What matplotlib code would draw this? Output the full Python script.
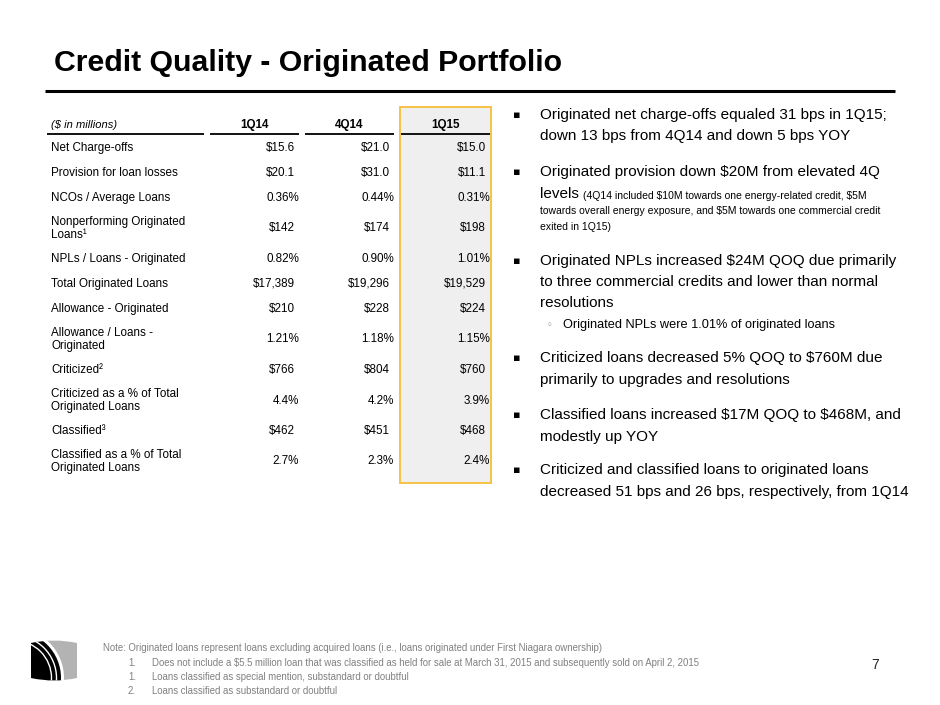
import matplotlib
matplotlib.use("Agg")
import matplotlib.pyplot as plt
from matplotlib.patches import Rectangle, Circle, PathPatch
from matplotlib.path import Path
import numpy as np

plt.rcParams['font.family'] = ['Liberation Sans Narrow', 'Liberation Sans', 'DejaVu Sans']

# ---- data ----
title = "Credit Quality - Originated Portfolio"
unit_label = "($ in millions)"
quarters = ["1Q14", "4Q14", "1Q15"]
row_labels = [
    "Net Charge-offs",
    "Provision for loan losses",
    "NCOs / Average Loans",
    "Nonperforming Originated\nLoans\u00b9",
    "NPLs / Loans - Originated",
    "Total Originated Loans",
    "Allowance - Originated",
    "Allowance / Loans -\nOriginated",
    "Criticized\u00b2",
    "Criticized as a % of Total\nOriginated Loans",
    "Classified\u00b3",
    "Classified as a % of Total\nOriginated Loans",
]
vals_1q14 = ["$15.6", "$20.1", "0.36%", "$142", "0.82%", "$17,389",
             "$210", "1.21%", "$766", "4.4%", "$462", "2.7%"]
vals_4q14 = ["$21.0", "$31.0", "0.44%", "$174", "0.90%", "$19,296",
             "$228", "1.18%", "$804", "4.2%", "$451", "2.3%"]
vals_1q15 = ["$15.0", "$11.1", "0.31%", "$198", "1.01%", "$19,529",
             "$224", "1.15%", "$760", "3.9%", "$468", "2.4%"]

bullets = [
    ["Originated net charge-offs equaled 31 bps in 1Q15;",
     "down 13 bps from 4Q14 and down 5 bps YOY"],
    ["Originated provision down $20M from elevated 4Q",
     "levels"],
    ["Originated NPLs increased $24M QOQ due primarily",
     "to three commercial credits and lower than normal",
     "resolutions"],
    ["Criticized loans decreased 5% QOQ to $760M due",
     "primarily to upgrades and resolutions"],
    ["Classified loans increased $17M QOQ to $468M, and",
     "modestly up YOY"],
    ["Criticized and classified loans to originated loans",
     "decreased 51 bps and 26 bps, respectively, from 1Q14"],
]
provision_note = ["(4Q14 included $10M towards one energy-related credit, $5M",
                  "towards overall energy exposure, and $5M towards one commercial credit",
                  "exited in 1Q15)"]
sub_bullet = "Originated NPLs were 1.01% of originated loans"

note_text = ("Note: Originated loans represent loans excluding acquired loans "
             "(i.e., loans originated under First Niagara ownership)")
footnote_nums = ["1.", "1.", "2."]
footnote_texts = [
    "Does not include a $5.5 million loan that was classified as held for sale "
    "at March 31, 2015 and subsequently sold on April 2, 2015",
    "Loans classified as special mention, substandard or doubtful",
    "Loans classified as substandard or doubtful",
]
page_number = "7"

# ---- canvas ----
fig = plt.figure(figsize=(9.4, 7.05), dpi=100)
ax = fig.add_axes([0, 0, 1, 1])
ax.set_xlim(0, 940)
ax.set_ylim(705, 0)
ax.axis('off')


def put(x, y, s, **kw):
    kw.setdefault('va', 'center')
    kw.setdefault('ha', 'left')
    return ax.text(x, y, s, parse_math=False, **kw)


# title
put(54, 71, title, fontsize=21.8, fontweight='bold', va='baseline')
ax.plot([45, 895], [91, 91], color='black', lw=2.2, solid_capstyle='butt')

# ---- table ----
seg = [(47, 204), (210, 299), (305, 394), (401, 490)]
col_right = [299, 394, 490]
TFS = 8.4
row_h = [36 if '\n' in lab else 25 for lab in row_labels]
tops = 135.5 + np.concatenate([[0], np.cumsum(row_h)[:-1]])
centers = tops + np.array(row_h) / 2.0
table_bottom = tops[-1] + row_h[-1]

# highlight 1Q15 column
ax.add_patch(Rectangle((400, 107), 91, table_bottom + 3 - 107,
                       facecolor='#efefef', edgecolor='#f6c342', lw=1.4, zorder=0))

put(51, 125, unit_label, fontsize=8, style='italic')
for (a, b), q in zip(seg[1:], quarters):
    put((a + b) / 2, 125, q, fontsize=TFS, fontweight='bold', ha='center')
for a, b in seg:
    ax.plot([a, b], [134, 134], color='black', lw=1.3, solid_capstyle='butt')

for i, lab in enumerate(row_labels):
    y = centers[i]
    put(51, y, lab, fontsize=TFS, linespacing=1.2)
    for xr, vals in zip(col_right, [vals_1q14, vals_4q14, vals_1q15]):
        v = vals[i]
        shift = 0 if v.endswith('%') else 4
        put(xr - shift, y, v, fontsize=TFS, ha='right')

# ---- bullets ----
bullet_y = [[115, 136], [172, 194], [261, 282, 303], [358, 380], [415, 437], [470, 492]]
BFS = 11
for lines, ys in zip(bullets, bullet_y):
    put(513, ys[0], "\u25aa", fontsize=8, family=['DejaVu Sans'])
    for line, y in zip(lines, ys):
        put(540, y, line, fontsize=BFS)

# provision note after "levels"
fig.canvas.draw()
r = fig.canvas.get_renderer()
lev = [t for t in ax.texts if t.get_text() == "levels"][0]
bb = lev.get_window_extent(renderer=r)
x_after = ax.transData.inverted().transform((bb.x1, 0))[0] + 4
NFS = 7.5
put(x_after, 196, provision_note[0], fontsize=NFS)
put(540, 211, provision_note[1], fontsize=NFS)
put(540, 227, provision_note[2], fontsize=NFS)

# sub bullet
put(547, 325, "\u25e6", fontsize=7, color='#808080', family=['DejaVu Sans'])
put(563, 325, sub_bullet, fontsize=9.2)

# ---- footer ----
GRAY = '#808080'
FFS = 6.9
put(103, 648, note_text, fontsize=FFS, color=GRAY)
for k, (n, txt) in enumerate(zip(footnote_nums, footnote_texts)):
    y = 662.5 + 14.5 * k
    put(128, y, n, fontsize=FFS, color=GRAY)
    put(152, y, txt, fontsize=FFS, color=GRAY)
put(875, 665, page_number, fontsize=10, color='#222222', ha='center')

# ---- logo ----
x0, x1, y0, y1 = 31, 77, 641, 680
verts = [(x0, y0 + 2), ((x0 + x1) / 2, y0 - 3), (x1, y0 + 2),
         (x1, y1 - 2), ((x0 + x1) / 2, y1 + 3), (x0, y1 - 2), (x0, y0 + 2)]
codes = [Path.MOVETO, Path.CURVE3, Path.CURVE3, Path.LINETO,
         Path.CURVE3, Path.CURVE3, Path.CLOSEPOLY]
clip = PathPatch(Path(verts, codes), facecolor='none', edgecolor='none')
ax.add_patch(clip)
cx, cy = 14, 678
parts = [Rectangle((x0 - 2, y0 - 5), x1 - x0 + 4, y1 - y0 + 10, facecolor='#b3b3b3', edgecolor='none'),
         Circle((cx, cy), 50, facecolor='white', edgecolor='none'),
         Circle((cx, cy), 47, facecolor='black', edgecolor='none')]
for rr in [42.5, 37.5]:
    parts.append(Circle((cx, cy), rr, facecolor='none', edgecolor='white', lw=1.0))
for p in parts:
    ax.add_patch(p)
    p.set_clip_path(clip)

fig.savefig("out.png", dpi=100)
